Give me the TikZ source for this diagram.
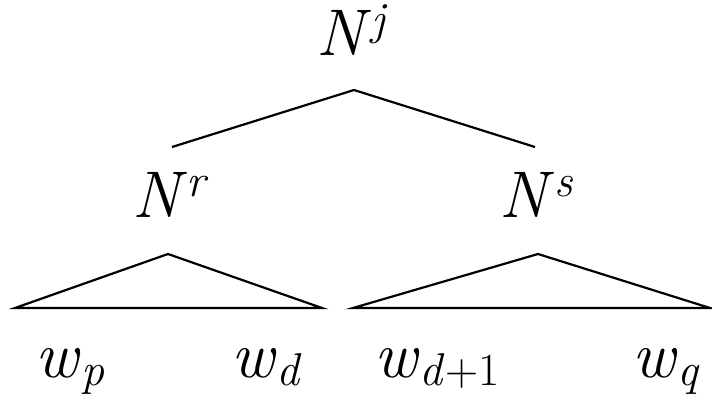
\documentclass[tikz,border=0pt]{standalone}
\newcommand\mysup[1]{\raisebox{21pt}{\fontsize{46}{46}\selectfont\itshape #1}}
\newcommand\mysub[1]{\raisebox{-8pt}{\fontsize{46}{46}\selectfont #1}}
\begin{document}
\begin{tikzpicture}[x=1pt,y=-1pt,
  lbl/.style={inner sep=0pt,anchor=base,font=\fontsize{66}{70}\selectfont},
  ln/.style={line width=2.2pt,line join=miter}]
\useasboundingbox (0,0) rectangle (712,398);
\node[lbl] (Nj) at (351,56) {\textit{N}\mysup{j}};
\node[lbl] (Nr) at (169,218) {\textit{N}\mysup{r}};
\node[lbl] (Ns) at (536,218) {\textit{N}\mysup{s}};
\node[lbl] (wp) at (70,377) {\textit{w}\mysub{\textit{p}}};
\node[lbl] (wd) at (267,377) {\textit{w}\mysub{\textit{d}}};
\node[lbl] (wd1) at (437,377) {\textit{w}\mysub{\textit{d}+1}};
\node[lbl] (wq) at (666,377) {\textit{w}\mysub{\textit{q}}};
\coordinate (top) at (354,90);
\coordinate (topl) at (172,147);
\coordinate (topr) at (535,147);
\draw[ln] (topl) -- (top) -- (topr);
\coordinate (ra) at (168,254);
\coordinate (rl) at (15,308);
\coordinate (rr) at (322,308);
\draw[ln] (ra) -- (rl) -- (rr) -- cycle;
\coordinate (sa) at (538,254);
\coordinate (sl) at (353,308);
\coordinate (sr) at (710,308);
\draw[ln] (sa) -- (sl) -- (sr) -- cycle;
\end{tikzpicture}
\end{document}
